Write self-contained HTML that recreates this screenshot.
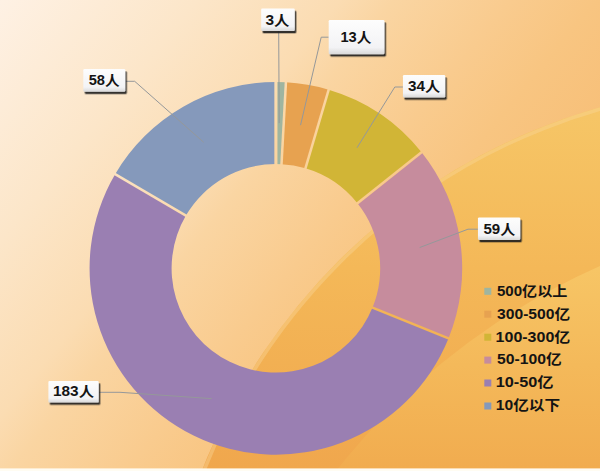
<!DOCTYPE html>
<html><head><meta charset="utf-8"><title>chart</title>
<style>
html,body{margin:0;padding:0;background:#fff;}
body{width:600px;height:471px;overflow:hidden;font-family:"Liberation Sans",sans-serif;}
svg{display:block}
</style></head><body>
<svg width="600" height="471" viewBox="0 0 600 471">
<defs>
<linearGradient id="bg" gradientUnits="userSpaceOnUse" x1="0" y1="0" x2="590.7" y2="482.5">
<stop offset="0" stop-color="#fef1e4"/><stop offset="0.2" stop-color="#fce6c9"/><stop offset="0.346" stop-color="#fbdcb2"/><stop offset="0.40" stop-color="#fad5a2"/><stop offset="0.52" stop-color="#f9cb8e"/><stop offset="0.606" stop-color="#f8c581"/><stop offset="1" stop-color="#f5b060"/>
</linearGradient>
<linearGradient id="c1" gradientUnits="userSpaceOnUse" x1="0" y1="106" x2="0" y2="468">
<stop offset="0" stop-color="#f6c667"/><stop offset="0.45" stop-color="#f4b858"/><stop offset="1" stop-color="#f0a74d"/>
</linearGradient>
<linearGradient id="c2" gradientUnits="userSpaceOnUse" x1="0" y1="262" x2="0" y2="468">
<stop offset="0" stop-color="#f7c666"/><stop offset="0.5" stop-color="#f4b95a"/><stop offset="1" stop-color="#f1ac4f"/>
</linearGradient>
<linearGradient id="lb" x1="0" y1="0" x2="0" y2="1">
<stop offset="0" stop-color="#fdfdfd"/><stop offset="0.8" stop-color="#f3f3f5"/><stop offset="1" stop-color="#d9d9d9"/>
</linearGradient>
<filter id="sh" x="-20%" y="-20%" width="150%" height="160%">
<feDropShadow dx="1.5" dy="2.3" stdDeviation="0.7" flood-color="#1a1a1a" flood-opacity="0.9"/>
</filter>
<mask id="gm" maskUnits="userSpaceOnUse" x="0" y="0" width="600" height="471">
<rect width="600" height="471" fill="#fff"/>
<g stroke="#000" stroke-width="2.5"><line x1="275.9" y1="168" x2="275.9" y2="78" stroke-width="3.1"/><line x1="281.3" y1="168.15" x2="286.14" y2="78.28"/><line x1="304.31" y1="172.11" x2="329.81" y2="85.8"/><line x1="354.32" y1="205.76" x2="424.68" y2="149.65"/><line x1="368.82" y1="306.06" x2="452.2" y2="339.94"/><line x1="189.34" y1="217.63" x2="111.67" y2="172.17"/></g>
</mask>
</defs>
<rect width="600" height="471" fill="url(#bg)"/>
<circle cx="765.7" cy="688.3" r="604.3" fill="url(#c1)"/>
<circle cx="765.7" cy="688.3" r="602.3" fill="none" stroke="#fbd79a" stroke-opacity="0.4" stroke-width="3.5"/>
<circle cx="879" cy="897.6" r="690.5" fill="url(#c2)"/>
<rect x="0" y="468.4" width="600" height="2.6" fill="#fffcf2"/>
<g mask="url(#gm)"><path d="M275.9 82A186.3 186.3 0 0 1 285.93 82.27L281.51 164.15A104.3 104.3 0 0 0 275.9 164Z" fill="#9fb5a0"/><path d="M285.93 82.27A186.3 186.3 0 0 1 328.68 89.63L305.45 168.27A104.3 104.3 0 0 0 281.51 164.15Z" fill="#e7a250"/><path d="M328.68 89.63A186.3 186.3 0 0 1 421.56 152.14L357.45 203.27A104.3 104.3 0 0 0 305.45 168.27Z" fill="#d1b536"/><path d="M421.56 152.14A186.3 186.3 0 0 1 448.49 338.43L372.53 307.56A104.3 104.3 0 0 0 357.45 203.27Z" fill="#c68c9d"/><path d="M448.49 338.43A186.3 186.3 0 1 1 115.12 174.19L185.89 215.61A104.3 104.3 0 1 0 372.53 307.56Z" fill="#9a7fb2"/><path d="M115.12 174.19A186.3 186.3 0 0 1 275.9 82L275.9 164A104.3 104.3 0 0 0 185.89 215.61Z" fill="#8599bb"/></g>
<g fill="none" stroke="#95989a" stroke-width="1"><polyline points="278.7,31 279.2,123.05"/><polyline points="328.7,37.2 321.2,37.2 300.56,125.11"/><polyline points="402.95,87 394.8,87 357.03,147.76"/><polyline points="477.95,229.2 468,229.2 419.7,247.5"/><polyline points="98.7,392.3 120,392.3 211.68,398.64"/><polyline points="125.3,81.3 134.7,81.3 203.63,142.25"/></g>
<rect x="261.15" y="8.55" width="33.6" height="22.4" rx="1.2" fill="url(#lb)" filter="url(#sh)"/><rect x="328.7" y="20.05" width="55.75" height="34.25" rx="1.2" fill="url(#lb)" filter="url(#sh)"/><rect x="402.95" y="74.95" width="42.3" height="22.5" rx="1.2" fill="url(#lb)" filter="url(#sh)"/><rect x="477.95" y="217.4" width="42.3" height="22.5" rx="1.2" fill="url(#lb)" filter="url(#sh)"/><rect x="48.4" y="380.9" width="50.3" height="21.7" rx="1.2" fill="url(#lb)" filter="url(#sh)"/><rect x="83.3" y="69" width="42" height="22.7" rx="1.2" fill="url(#lb)" filter="url(#sh)"/>
<rect x="484.3" y="287.8" width="7" height="7" fill="#9fb5a0"/><rect x="484.3" y="310.7" width="7" height="7" fill="#e7a250"/><rect x="484.3" y="333.7" width="7" height="7" fill="#d1b536"/><rect x="484.3" y="356.6" width="7" height="7" fill="#c68c9d"/><rect x="484.3" y="379.5" width="7" height="7" fill="#9a7fb2"/><rect x="484.3" y="402.5" width="7" height="7" fill="#8599bb"/>
<g fill="#141414" font-family="'Liberation Sans','Noto Sans CJK SC',sans-serif" font-weight="bold" font-size="14">
<text x="265.5" y="25" textLength="24" lengthAdjust="spacingAndGlyphs">3人</text>
<text x="340.4" y="41.5" textLength="31" lengthAdjust="spacingAndGlyphs">13人</text>
<text x="408.1" y="91.4" textLength="32.3" lengthAdjust="spacingAndGlyphs">34人</text>
<text x="483.4" y="233.9" textLength="31.8" lengthAdjust="spacingAndGlyphs">59人</text>
<text x="53" y="396.3" textLength="41" lengthAdjust="spacingAndGlyphs">183人</text>
<text x="88.7" y="85.4" textLength="31" lengthAdjust="spacingAndGlyphs">58人</text>
<text x="496.9" y="295.6" textLength="70.4" lengthAdjust="spacingAndGlyphs">500亿以上</text>
<text x="497" y="318.5" textLength="73.2" lengthAdjust="spacingAndGlyphs">300-500亿</text>
<text x="495.6" y="341.5" textLength="74.7" lengthAdjust="spacingAndGlyphs">100-300亿</text>
<text x="497" y="364.4" textLength="64.6" lengthAdjust="spacingAndGlyphs">50-100亿</text>
<text x="495.8" y="387.3" textLength="57.8" lengthAdjust="spacingAndGlyphs">10-50亿</text>
<text x="495.8" y="410.3" textLength="64.3" lengthAdjust="spacingAndGlyphs">10亿以下</text>
</g>
</svg>
</body></html>
